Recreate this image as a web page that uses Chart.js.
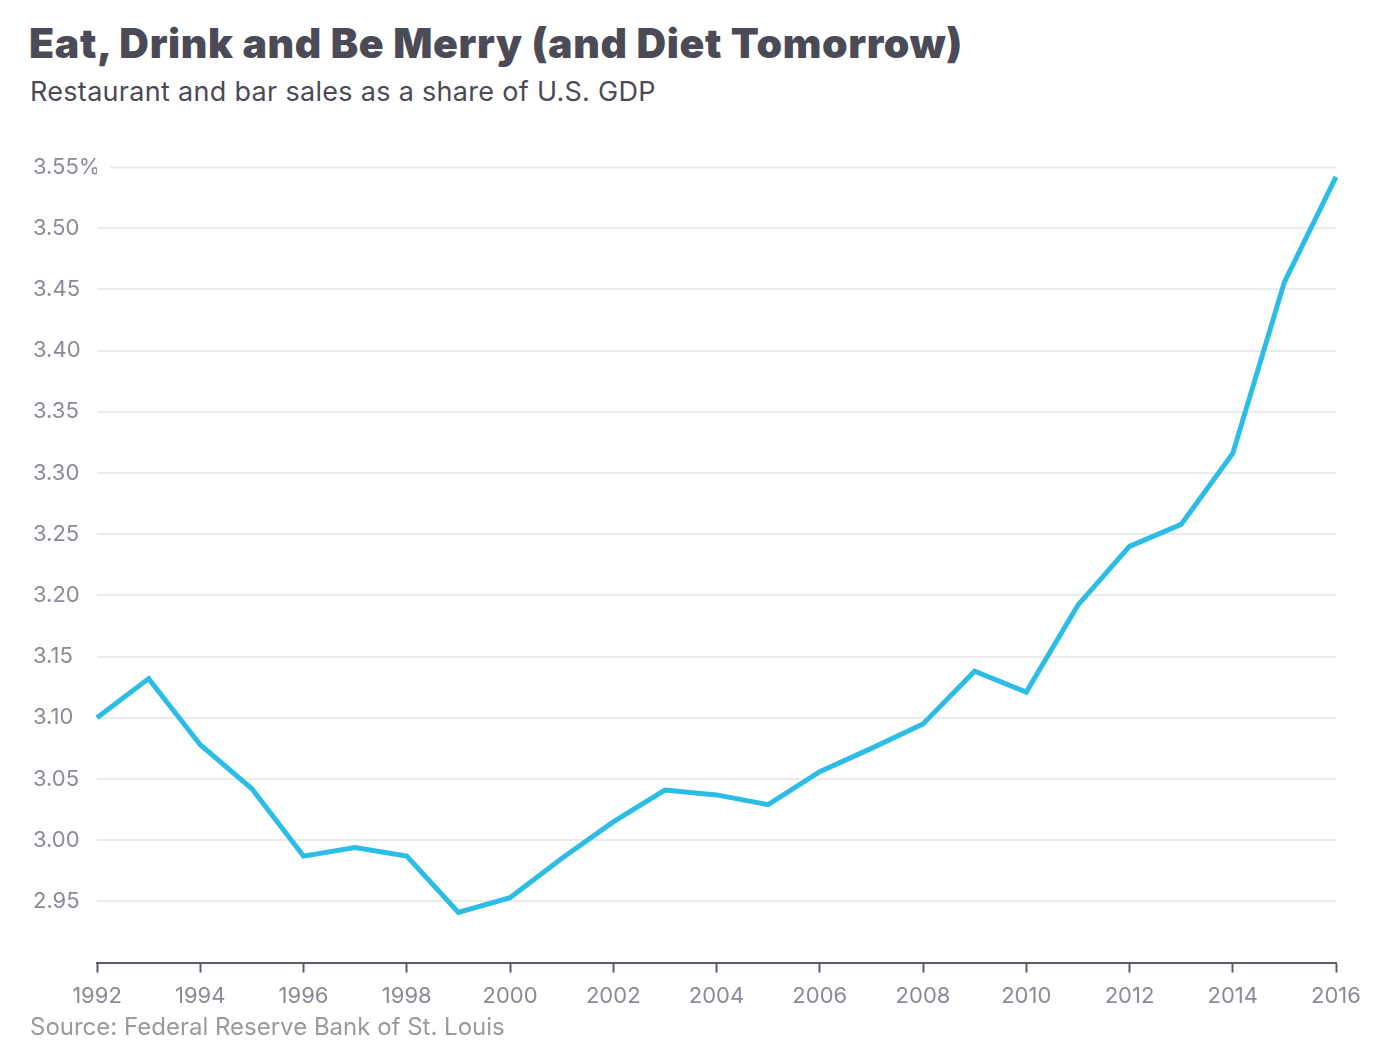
<!DOCTYPE html>
<html lang="en">

<head>
    <meta charset="UTF-8">
    <title>Eat, Drink and Be Merry (and Diet Tomorrow)</title>
    <script src="https://cdn.jsdelivr.net/npm/chart.js"></script>
    <style>
        html, body { margin: 0; padding: 0; background: #fff; }
        body { width: 1386px; height: 1050px; position: relative; overflow: hidden; font-family: Inter, "Noto Sans", sans-serif; }
        .title { position: absolute; left: 29px; top: 23px; font-size: 41px; line-height: 40px; font-weight: 900; color: #4b4b57; letter-spacing: 0.65px; white-space: nowrap; }
        .subtitle { position: absolute; left: 30px; top: 77px; font-size: 27px; line-height: 30px; font-weight: 400; color: #4b4b57; letter-spacing: 0.3px; white-space: nowrap; }
        .source { position: absolute; left: 30px; top: 1013px; font-size: 24px; line-height: 28px; color: #9a9a9e; white-space: nowrap; }
        #chart { position: absolute; left: 0; top: 0; }
    </style>
</head>

<body>
    <div class="title">Eat, Drink and Be Merry (and Diet Tomorrow)</div>
    <div class="subtitle">Restaurant and bar sales as a share of U.S. GDP</div>
    <canvas id="chart" width="1386" height="1050"></canvas>
    <div class="source">Source: Federal Reserve Bank of St. Louis</div>

    <script>
        // data
        const years = [1992, 1993, 1994, 1995, 1996, 1997, 1998, 1999, 2000, 2001, 2002, 2003,
            2004, 2005, 2006, 2007, 2008, 2009, 2010, 2011, 2012, 2013, 2014, 2015, 2016];
        const share = [3.100, 3.132, 3.078, 3.042, 2.987, 2.994, 2.987, 2.941, 2.953, 2.985, 3.015, 3.041,
            3.037, 3.029, 3.056, 3.075, 3.095, 3.138, 3.121, 3.192, 3.240, 3.258, 3.316, 3.456, 3.542];
        const yTicks = [2.90, 2.95, 3.00, 3.05, 3.10, 3.15, 3.20, 3.25, 3.30, 3.35, 3.40, 3.45, 3.50, 3.55];
        const xTicks = [1992, 1994, 1996, 1998, 2000, 2002, 2004, 2006, 2008, 2010, 2012, 2014, 2016];

        const tickFont = { family: 'Inter, "Noto Sans", sans-serif', size: 22 };
        const yMax = yTicks[yTicks.length - 1];

        // top gridline starts after the "%" label instead of at the plot edge
        const topGridline = {
            id: 'topGridline',
            beforeDatasetsDraw(chart) {
                const y = chart.scales.y;
                const ctx = chart.ctx;
                ctx.save();
                ctx.font = tickFont.size + 'px ' + tickFont.family;
                const labelEnd = y.left + ctx.measureText('3.55%').width + 10;
                const py = Math.round(y.getPixelForValue(yMax)) + 0.5;
                ctx.strokeStyle = '#ebebeb';
                ctx.lineWidth = 2;
                ctx.beginPath();
                ctx.moveTo(Math.max(labelEnd, chart.chartArea.left), py);
                ctx.lineTo(chart.chartArea.right, py);
                ctx.stroke();
                ctx.restore();
            }
        };

        new Chart(document.getElementById('chart'), {
            type: 'line',
            data: {
                datasets: [{
                    data: years.map((yr, i) => ({ x: yr, y: share[i] })),
                    borderColor: '#2bbde6',
                    borderWidth: 5,
                    pointRadius: 0,
                    tension: 0,
                    borderJoinStyle: 'miter',
                    clip: false
                }]
            },
            options: {
                responsive: false,
                animation: false,
                layout: { padding: { left: 33, top: 167, right: 50, bottom: 29 } },
                plugins: { legend: { display: false }, tooltip: { enabled: false } },
                scales: {
                    x: {
                        type: 'linear',
                        min: years[0],
                        max: years[years.length - 1],
                        afterBuildTicks: (s) => { s.ticks = xTicks.map(v => ({ value: v })); },
                        ticks: {
                            callback: (v) => String(v),
                            font: tickFont,
                            color: '#8a8a98',
                            padding: 11,
                            maxRotation: 0,
                            autoSkip: false
                        },
                        grid: {
                            drawOnChartArea: false,
                            drawTicks: true,
                            tickLength: 10,
                            tickWidth: 2,
                            tickColor: '#5c5c68'
                        },
                        border: { display: true, color: '#5c5c68', width: 2 }
                    },
                    y: {
                        min: yTicks[0],
                        max: yMax,
                        afterBuildTicks: (s) => { s.ticks = yTicks.map(v => ({ value: v })); },
                        afterFit: (s) => { s.width = 64; },
                        ticks: {
                            callback: (v) => {
                                if (v === yTicks[0]) return '';
                                return v === yMax ? v.toFixed(2) + '%' : v.toFixed(2);
                            },
                            font: tickFont,
                            color: '#8a8a98',
                            crossAlign: 'far',
                            padding: 0
                        },
                        grid: {
                            drawTicks: false,
                            lineWidth: 2,
                            color: (c) => (c.tick && (c.tick.value === yMax || c.tick.value === yTicks[0])) ? 'rgba(0,0,0,0)' : '#ebebeb'
                        },
                        border: { display: false }
                    }
                }
            },
            plugins: [topGridline]
        });
    </script>
</body>

</html>
